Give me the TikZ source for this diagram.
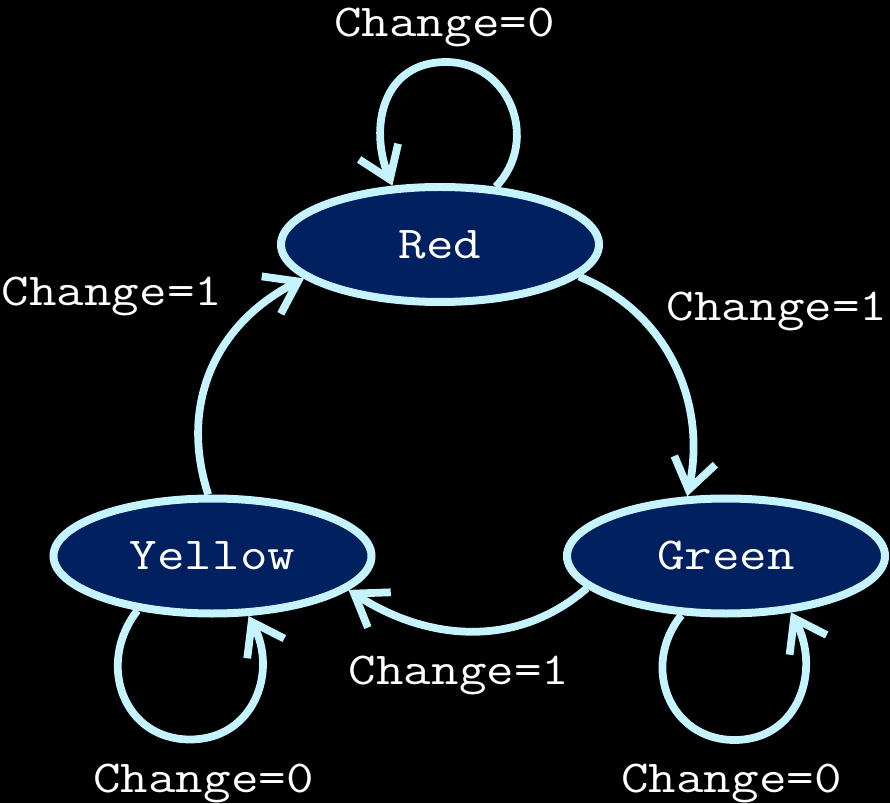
\documentclass[tikz,border=0pt]{standalone}
\usepackage{fontspec}
\newfontfamily\statefont[FakeStretch=1.17]{Latin Modern Mono}
\usetikzlibrary{arrows.meta, shapes.geometric}

\definecolor{statefill}{HTML}{002060}
\definecolor{edgeblue}{HTML}{C5F3FF}

\begin{document}
\begin{tikzpicture}[
	x=0.2mm, y=0.2mm,
	state/.style={
		ellipse,
		draw=edgeblue,
		fill=statefill,
		line width=1.6mm,
		minimum width=63.6mm,
		minimum height=23mm,
		inner sep=0pt,
		text=white,
		font=\statefont\fontsize{26}{30}\selectfont
	},
	cond/.style={
		inner sep=0pt,
		anchor=base,
		text=white,
		font=\statefont\fontsize{26}{30}\selectfont
	},
	arrow/.style={-{Straight Barb[length=6mm,width=8.4mm]}, line width=1.55mm, draw=edgeblue}
	]

	% background
	\fill[black] (0,0) rectangle (890,803);

	% ======================
	% States
	% ======================
	\node (red) [state] at (440,558.5) {Red};
	\node (yellow) [state] at (212.5,247) {Yellow};
	\node (green) [state] at (726,247) {Green};

	% lowest / highest points of the self loops
	\coordinate (redtop) at (446,741);
	\coordinate (yellowbot) at (190,63.5);
	\coordinate (greenbot) at (734.5,63);

	% ======================
	% Transitions
	% ======================
	\draw[arrow] (red.46) to[out=46,in=0,looseness=1.22] (redtop)
		to[out=180,in=112,looseness=1.2] (red.129);
	\draw[arrow] (red.-13) to[out=-22,in=78,looseness=1] (green.123);
	\draw[arrow] (green.193) to[out=221,in=-33,looseness=1] (yellow.-14.5);
	\draw[arrow] (yellow.94) to[out=108,in=207,looseness=1.05] (red.194);
	\draw[arrow] (yellow.216) to[out=232,in=180,looseness=1.23] (yellowbot)
		to[out=0,in=-62,looseness=1.19] (yellow.301);
	\draw[arrow] (green.233) to[out=231,in=180,looseness=1.23] (greenbot)
		to[out=0,in=-62,looseness=1.19] (green.319);

	% conditions
	\node (redstay) [cond] at (444.5,766) {Change=0};
	\node (redgo) [cond] at (777,482) {Change=1};
	\node (greengo) [cond] at (459,119) {Change=1};
	\node (yellowgo) [cond] at (112,497) {Change=1};
	\node (yellowstay) [cond] at (203.5,11) {Change=0};
	\node (greenstay) [cond] at (731.5,11) {Change=0};

\end{tikzpicture}
\end{document}
